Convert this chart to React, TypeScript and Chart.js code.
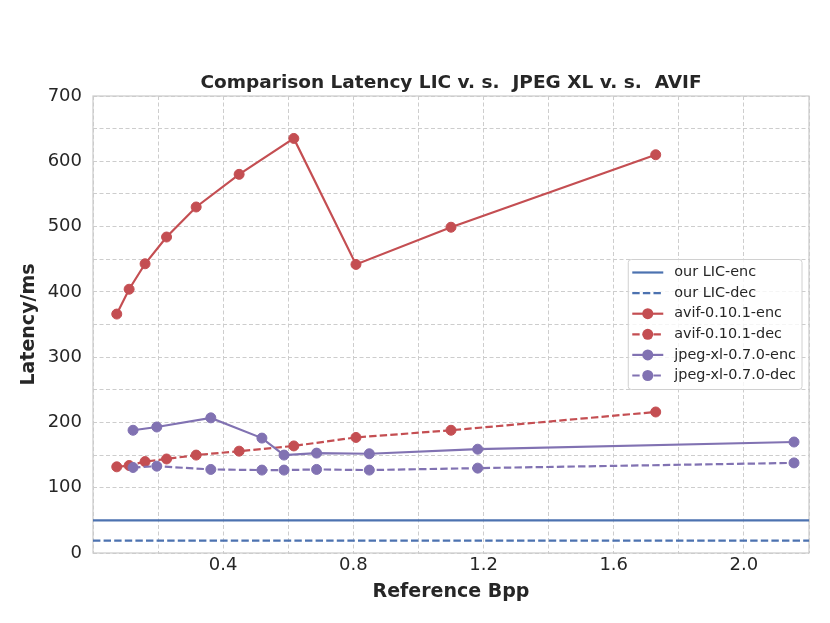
import React, { useEffect, useRef } from 'react';
import { Chart, registerables } from 'chart.js';

Chart.register(...registerables);

// bpp values
const avifBpp = [0.073, 0.111, 0.16, 0.226, 0.317, 0.449, 0.617, 0.808, 1.1, 1.729];
const avifEnc = [366, 404, 443, 484, 530, 580, 635, 442, 499, 610];
const avifDec = [132, 134, 140, 144, 150, 156, 164, 177, 188, 216];

const jxlBpp = [0.123, 0.196, 0.362, 0.519, 0.587, 0.687, 0.849, 1.182, 2.154];
const jxlEnc = [188, 193, 207, 176, 150, 153, 152, 159, 170];
const jxlDec = [131, 133, 128, 127, 127, 128, 127, 130, 138];

// our LIC is a flat latency, drawn across the whole x range
const licEnc = 50;
const licDec = 19;

const xRange = [0, 2.2];
const yRange = [0, 700];

const chartTitle = 'Comparison Latency LIC v. s.  JPEG XL v. s.  AVIF';

const seriesNames = [
  'our LIC-enc',
  'our LIC-dec',
  'avif-0.10.1-enc',
  'avif-0.10.1-dec',
  'jpeg-xl-0.7.0-enc',
  'jpeg-xl-0.7.0-dec',
];

const BLUE = '#4C72B0';
const RED = '#C44E52';
const PURPLE = '#8172B2';
const FONT = "'DejaVu Sans'";
const TEXT = '#262626';
const GRID = '#cdcdcd';

const toPoints = (xs: number[], ys: number[]) => xs.map((x, i) => ({ x, y: ys[i] }));

// frame around the whole plot area (matplotlib style spines)
const framePlugin = {
  id: 'frame',
  beforeDatasetsDraw(chart: any) {
    const { ctx, chartArea } = chart;
    ctx.save();
    ctx.strokeStyle = '#cccccc';
    ctx.lineWidth = 1.25;
    ctx.strokeRect(chartArea.left, chartArea.top, chartArea.right - chartArea.left, chartArea.bottom - chartArea.top);
    ctx.restore();
  },
};

// title centred over the plot area, not the canvas
const titlePlugin = {
  id: 'plotTitle',
  afterDraw(chart: any) {
    const { ctx, chartArea } = chart;
    ctx.save();
    ctx.font = `bold 18.5px ${FONT}`;
    ctx.fillStyle = TEXT;
    ctx.textAlign = 'center';
    ctx.textBaseline = 'alphabetic';
    ctx.fillText(chartTitle, (chartArea.left + chartArea.right) / 2, 87.7);
    ctx.restore();
  },
};

// legend box drawn inside the plot, centre right
const legendPlugin = {
  id: 'insideLegend',
  afterDraw(chart: any) {
    const { ctx, chartArea } = chart;
    ctx.save();
    ctx.font = `14.4px ${FONT}`;
    const textW = Math.max(...seriesNames.map((n) => ctx.measureText(n).width));
    const rowH = 20.6;
    const w = 4 + 31 + 11 + textW + 6;
    const h = 130;
    const right = chartArea.right - 7;
    const left = right - w;
    const top = (chartArea.top + chartArea.bottom) / 2 - h / 2;

    ctx.fillStyle = 'rgba(255,255,255,0.8)';
    ctx.strokeStyle = '#d0d0d0';
    ctx.lineWidth = 1;
    ctx.beginPath();
    ctx.roundRect(left, top, w, h, 3);
    ctx.fill();
    ctx.stroke();

    chart.data.datasets.forEach((ds: any, i: number) => {
      const y = top + 13 + i * rowH;
      const x0 = left + 4;
      const x1 = x0 + 31;
      ctx.strokeStyle = ds.borderColor;
      ctx.lineWidth = 2.2;
      ctx.setLineDash(ds.borderDash || []);
      ctx.beginPath();
      ctx.moveTo(x0, y);
      ctx.lineTo(x1, y);
      ctx.stroke();
      ctx.setLineDash([]);
      if (ds.pointRadius > 0) {
        ctx.fillStyle = ds.borderColor;
        ctx.beginPath();
        ctx.arc((x0 + x1) / 2, y, 5.5, 0, Math.PI * 2);
        ctx.fill();
      }
      ctx.fillStyle = TEXT;
      ctx.textBaseline = 'middle';
      ctx.textAlign = 'left';
      ctx.fillText(ds.label, x1 + 11, y);
    });
    ctx.restore();
  },
};

const DASH = [7.4, 3.2];

export const LatencyChart: React.FC = () => {
  const chartRef = useRef<HTMLCanvasElement>(null);
  const chartInstance = useRef<Chart | null>(null);

  useEffect(() => {
    if (!chartRef.current) return;
    const ctx = chartRef.current.getContext('2d');
    if (!ctx) return;

    if (chartInstance.current) {
      chartInstance.current.destroy();
    }

    const line = (label: string, color: string, data: any[], dashed: boolean, markers: boolean, order: number) => ({
      label,
      data,
      borderColor: color,
      backgroundColor: color,
      borderWidth: 2.2,
      borderDash: dashed ? DASH : [],
      pointRadius: markers ? 5 : 0,
      pointBorderWidth: 1,
      pointBorderColor: color,
      pointBackgroundColor: color,
      tension: 0,
      fill: false,
      order,
    });

    chartInstance.current = new Chart(ctx, {
      type: 'line',
      data: {
        datasets: [
          line(seriesNames[0], BLUE, [{ x: xRange[0], y: licEnc }, { x: xRange[1], y: licEnc }], false, false, 5),
          line(seriesNames[1], BLUE, [{ x: xRange[0], y: licDec }, { x: xRange[1], y: licDec }], true, false, 4),
          line(seriesNames[2], RED, toPoints(avifBpp, avifEnc), false, true, 3),
          line(seriesNames[3], RED, toPoints(avifBpp, avifDec), true, true, 2),
          line(seriesNames[4], PURPLE, toPoints(jxlBpp, jxlEnc), false, true, 1),
          line(seriesNames[5], PURPLE, toPoints(jxlBpp, jxlDec), true, true, 0),
        ] as any,
      },
      options: {
        responsive: true,
        maintainAspectRatio: false,
        animation: false,
        layout: {
          padding: { top: 96, right: 21, bottom: 0, left: 0 },
        },
        plugins: {
          legend: { display: false },
          tooltip: { enabled: false },
          title: { display: false },
        },
        scales: {
          x: {
            type: 'linear',
            min: xRange[0],
            max: xRange[1],
            afterFit: (scale: any) => {
              scale.height = 70;
            },
            grid: {
              color: GRID,
              lineWidth: 1,
              drawTicks: false,
            },
            border: { display: false, dash: [4, 2.5] },
            ticks: {
              stepSize: 0.2,
              autoSkip: false,
              maxRotation: 0,
              padding: 2,
              color: TEXT,
              font: { family: FONT, size: 18 },
              callback: (value: any) => {
                const k = Math.round(Number(value) * 10);
                return k > 0 && k % 4 === 0 ? (k / 10).toFixed(1) : '';
              },
            },
            title: {
              display: true,
              text: 'Reference Bpp',
              color: TEXT,
              font: { family: FONT, size: 19, weight: 'bold' },
              padding: { top: 0, bottom: 20 },
            },
          },
          y: {
            type: 'linear',
            min: yRange[0],
            max: yRange[1],
            afterFit: (scale: any) => {
              scale.width = 93;
            },
            grid: {
              color: GRID,
              lineWidth: 1,
              drawTicks: false,
            },
            border: { display: false, dash: [4, 2.5] },
            ticks: {
              stepSize: 50,
              autoSkip: false,
              padding: 11,
              color: TEXT,
              font: { family: FONT, size: 18 },
              callback: (value: any) => (Number(value) % 100 === 0 ? String(value) : ''),
            },
            title: {
              display: true,
              text: 'Latency/ms',
              color: TEXT,
              font: { family: FONT, size: 19, weight: 'bold' },
              padding: { top: 17.6, bottom: 0 },
            },
          },
        },
      },
      plugins: [framePlugin, titlePlugin, legendPlugin],
    });

    return () => {
      if (chartInstance.current) {
        chartInstance.current.destroy();
        chartInstance.current = null;
      }
    };
  }, []);

  return (
    <div style={{ position: 'absolute', left: 0, top: 0, width: 830, height: 623, background: '#fff' }}>
      <canvas ref={chartRef}></canvas>
    </div>
  );
};

export default function App() {
  return <LatencyChart />;
}
